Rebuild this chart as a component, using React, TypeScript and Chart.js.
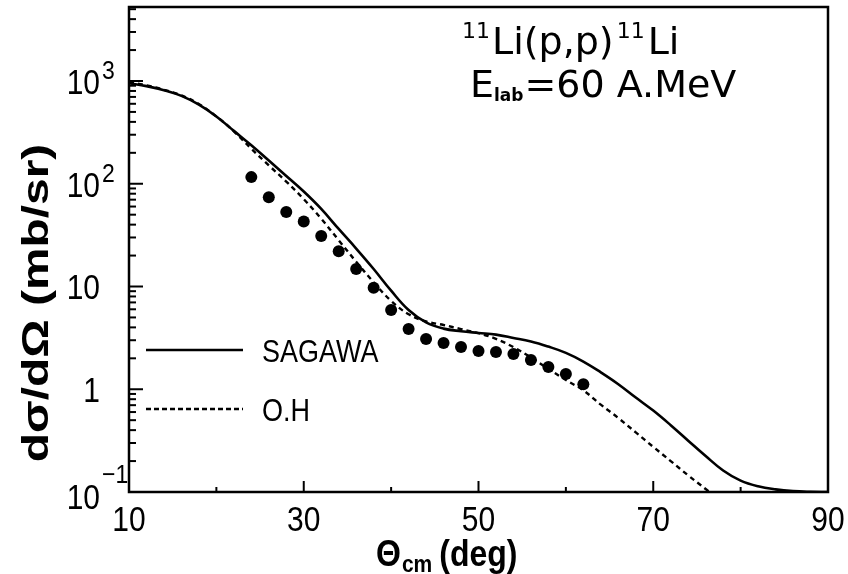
import React, { useEffect, useRef } from "react";
import { Chart, registerables } from "chart.js";

Chart.register(...registerables);

// ---- data ----
const curveAngles = [10, 12, 14, 16, 18, 20, 22, 24, 26, 28, 30, 32, 34, 36, 38, 40, 42, 44, 46, 48, 50, 52, 54, 56, 58, 60, 62, 64, 66, 68, 70, 72, 74, 76, 78, 80, 82, 84, 86, 88, 90];
const sagawaValues = [951, 891, 813, 716, 589, 452, 327, 237, 168, 119, 84, 56.9, 36.3, 23.4, 14.8, 9.1, 5.9, 4.47, 3.89, 3.67, 3.53, 3.4, 3.16, 2.92, 2.6, 2.26, 1.86, 1.46, 1.12, 0.83, 0.62, 0.447, 0.316, 0.224, 0.162, 0.129, 0.1135, 0.106, 0.102, 0.1005, 0.1];
const ohAngles = [10, 12, 14, 16, 18, 20, 22, 24, 26, 28, 30, 32, 34, 36, 38, 40, 42, 44, 46, 48, 50, 52, 54, 56, 58, 60, 62, 64, 66, 68, 70, 72, 74, 76, 78];
const ohValues = [977, 908, 822, 724, 596, 452, 324, 219, 151, 105, 70.8, 45.7, 28.2, 17.4, 11.0, 7.24, 5.37, 4.57, 4.22, 3.85, 3.51, 3.09, 2.57, 2.04, 1.58, 1.23, 0.977, 0.708, 0.525, 0.38, 0.275, 0.2, 0.145, 0.107, 0.079];
const dataAngles = [24, 26, 28, 30, 32, 34, 36, 38, 40, 42, 44, 46, 48, 50, 52, 54, 56, 58, 60, 62];
const dataValues = [116, 74, 53, 43, 31, 22, 14.8, 9.7, 5.9, 3.86, 3.08, 2.82, 2.58, 2.36, 2.3, 2.2, 1.93, 1.65, 1.41, 1.12];

const xTickValues = [10, 30, 50, 70, 90];
const xTickLabels = ["10", "30", "50", "70", "90"];
const yTickValues = [1000, 100, 10, 1, 0.1];
const yTickMantissa = ["10", "10", "10", "1", "10"];
const yTickExponent = ["3", "2", "", "", "\u22121"];
const legendLabels = ["SAGAWA", "O.H"];

const X_MIN = 10;
const X_MAX = 90;
const Y_MIN = 0.1;
const Y_MAX = 5250;

const SANS = '"Liberation Sans", Arial, sans-serif';
const TITLE_FONT = '"DejaVu Sans", sans-serif';
const SY = 1.15;

function drawText(
  ctx: CanvasRenderingContext2D,
  s: string,
  x: number,
  y: number,
  font: string,
  align: CanvasTextAlign = "left",
  baseline: CanvasTextBaseline = "alphabetic",
  sy: number = SY
) {
  ctx.save();
  ctx.translate(x, y);
  ctx.scale(1, sy);
  ctx.font = font;
  ctx.textAlign = align;
  ctx.textBaseline = baseline;
  ctx.fillStyle = "#000";
  ctx.fillText(s, 0, 0);
  ctx.restore();
}

function measure(ctx: CanvasRenderingContext2D, s: string, font: string) {
  ctx.save();
  ctx.font = font;
  const w = ctx.measureText(s).width;
  ctx.restore();
  return w;
}

const decorPlugin = {
  id: "decor",
  beforeDraw(chart: any) {
    const ctx: CanvasRenderingContext2D = chart.ctx;
    ctx.save();
    ctx.fillStyle = "#fff";
    ctx.fillRect(0, 0, chart.width, chart.height);
    ctx.restore();
  },
  afterDraw(chart: any) {
    const ctx: CanvasRenderingContext2D = chart.ctx;
    const { left, right, top, bottom } = chart.chartArea;
    const xs = chart.scales.x;
    const ys = chart.scales.y;
    ctx.save();
    ctx.strokeStyle = "#000";
    ctx.lineWidth = 2.5;
    ctx.strokeRect(left, top, right - left, bottom - top);

    // y ticks (inward)
    ctx.lineWidth = 2;
    for (let e = -1; e <= 3; e++) {
      for (let m = 1; m <= 9; m++) {
        const v = m * Math.pow(10, e);
        if (v < Y_MIN || v > Y_MAX) continue;
        const py = ys.getPixelForValue(v);
        const len = m === 1 ? 14 : 7;
        ctx.beginPath();
        ctx.moveTo(left, py);
        ctx.lineTo(left + len, py);
        ctx.stroke();
      }
    }
    // x ticks (inward)
    for (let v = 20; v < X_MAX; v += 10) {
      const px = xs.getPixelForValue(v);
      const len = (v - 10) % 20 === 0 ? 11 : 5;
      ctx.beginPath();
      ctx.moveTo(px, bottom);
      ctx.lineTo(px, bottom - len);
      ctx.stroke();
    }

    // x tick labels
    xTickValues.forEach((v, i) => {
      const px = xs.getPixelForValue(v);
      drawText(ctx, xTickLabels[i], px, 531, `30px ${SANS}`, "center");
    });

    // y tick labels
    yTickValues.forEach((v, i) => {
      const py = ys.getPixelForValue(v);
      const isLast = v === Y_MIN;
      drawText(ctx, yTickMantissa[i], 100, py + (isLast ? 17 : 13), `30px ${SANS}`, "right");
      if (yTickExponent[i]) {
        drawText(ctx, yTickExponent[i], 102, py + (isLast ? -9 : -2), `23px ${SANS}`, "left");
      }
    });

    // x title: Θcm (deg)
    {
      const fBig = `bold 32px ${SANS}`;
      const fSub = `bold 21px ${SANS}`;
      let x = 376;
      drawText(ctx, "\u0398", x, 566, fBig);
      x += measure(ctx, "\u0398", fBig) + 1;
      drawText(ctx, "cm", x, 572, fSub);
      x += measure(ctx, "cm", fSub) + 7;
      drawText(ctx, "(deg)", x, 566, fBig);
    }
    // y title
    {
      ctx.save();
      ctx.translate(48, 303);
      ctx.rotate(-Math.PI / 2);
      ctx.scale(1.33, 1);
      ctx.font = `bold 36px ${SANS}`;
      ctx.textAlign = "center";
      ctx.textBaseline = "alphabetic";
      ctx.fillStyle = "#000";
      ctx.fillText("d\u03c3/d\u03a9 (mb/sr)", 0, 0);
      ctx.restore();
    }

    // reaction title
    {
      const fBig = `38px ${TITLE_FONT}`;
      const fSup = `22px ${TITLE_FONT}`;
      let x = 462;
      drawText(ctx, "11", x, 38, fSup, "left", "alphabetic", 1);
      x += measure(ctx, "11", fSup) + 2;
      drawText(ctx, "Li(p,p)", x, 54, fBig, "left", "alphabetic", 1);
      x += measure(ctx, "Li(p,p)", fBig) + 3;
      drawText(ctx, "11", x, 38, fSup, "left", "alphabetic", 1);
      x += measure(ctx, "11", fSup) + 3;
      drawText(ctx, "Li", x, 54, fBig, "left", "alphabetic", 1);

      const fSub = `bold 17px ${TITLE_FONT}`;
      x = 470;
      drawText(ctx, "E", x, 97, fBig, "left", "alphabetic", 1);
      x += measure(ctx, "E", fBig);
      drawText(ctx, "lab", x, 101, fSub, "left", "alphabetic", 1);
      x += measure(ctx, "lab", fSub) + 1;
      drawText(ctx, "=60 A.MeV", x, 97, fBig, "left", "alphabetic", 1);
    }

    // legend
    ctx.lineWidth = 2.5;
    ctx.setLineDash([]);
    ctx.beginPath();
    ctx.moveTo(146, 350);
    ctx.lineTo(243, 350);
    ctx.stroke();
    drawText(ctx, legendLabels[0], 262, 362, `27px ${SANS}`);
    ctx.setLineDash([5, 3]);
    ctx.beginPath();
    ctx.moveTo(146, 409);
    ctx.lineTo(243, 409);
    ctx.stroke();
    ctx.setLineDash([]);
    drawText(ctx, legendLabels[1], 262, 421, `27px ${SANS}`);

    ctx.restore();
  },
};

export default function App() {
  const canvasRef = useRef<HTMLCanvasElement | null>(null);

  useEffect(() => {
    const canvas = canvasRef.current;
    if (!canvas) return;
    const chart = new Chart(canvas, {
      type: "line",
      data: {
        datasets: [
          {
            label: legendLabels[0],
            data: curveAngles.map((a, i) => ({ x: a, y: sagawaValues[i] })),
            borderColor: "#000",
            borderWidth: 2.6,
            pointRadius: 0,
            fill: false,
            tension: 0.4,
          },
          {
            label: legendLabels[1],
            data: ohAngles.map((a, i) => ({ x: a, y: ohValues[i] })),
            borderColor: "#000",
            borderWidth: 2.4,
            borderDash: [5, 4],
            pointRadius: 0,
            fill: false,
            tension: 0.4,
          },
          {
            type: "scatter",
            label: "data",
            data: dataAngles.map((a, i) => ({ x: a, y: dataValues[i] })),
            backgroundColor: "#000",
            borderColor: "#000",
            borderWidth: 0,
            pointRadius: 6,
            showLine: false,
          } as any,
        ],
      },
      options: {
        responsive: false,
        animation: false,
        events: [],
        layout: { padding: { left: 129, right: 20, top: 7, bottom: 82 } },
        plugins: { legend: { display: false }, tooltip: { enabled: false } },
        scales: {
          x: { type: "linear", min: X_MIN, max: X_MAX, display: false },
          y: { type: "logarithmic", min: Y_MIN, max: Y_MAX, display: false },
        },
      },
      plugins: [decorPlugin],
    } as any);
    return () => chart.destroy();
  }, []);

  return (
    <div style={{ position: "absolute", left: 0, top: 0, width: 848, height: 574 }}>
      <canvas ref={canvasRef} width={848} height={574} style={{ display: "block" }} />
    </div>
  );
}
